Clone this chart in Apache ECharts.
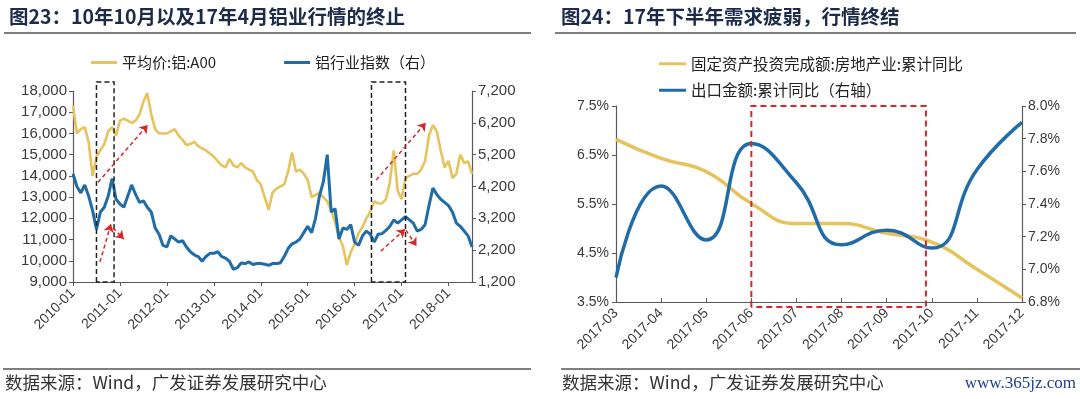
<!DOCTYPE html>
<html>
<head>
<meta charset="utf-8">
<script src="https://cdn.jsdelivr.net/npm/echarts@6/dist/echarts.min.js"></script>
<style>
  html, body { margin: 0; padding: 0; background: #fff; }
  #myChart { width: 1080px; height: 399px; }
</style>
</head>
<body>
<div id="myChart"></div>
<script>
/* 图23 / 图24 */
// 月份 2010-01 ~ 2018-07
var monthsL = [];
for (var y = 2010; y <= 2018; y++) {
    for (var m = 1; m <= 12; m++) {
        if (y == 2018 && m > 7) break;
        monthsL.push(y + '-' + (m < 10 ? '0' + m : m));
    }
}
// 平均价:铝:A00（元/吨）
var priceA00 = [
    17300, 16000, 16200, 16300, 15600, 14000, 14900, 15200, 15500, 16100, 16300, 15900,
    16600, 16700, 16600, 16500, 16600, 16900, 17500, 17900, 16900, 16200, 16000, 16000,
    16000, 16100, 16200, 15900, 15700, 15450, 15500, 15600, 15400, 15300, 15200, 15050,
    14900, 14700, 14500, 14400, 14800, 14500, 14400, 14600, 14400, 14300, 14200, 13800,
    13600, 13000, 12400, 13200, 13400, 13500, 13600, 14200, 15100, 14200, 14300, 14100,
    13800, 13000, 13100, 13200, 13000, 12800, 12400, 11800, 11100, 10700, 9800, 10400,
    10800, 11300, 11600, 12000, 12300, 12800, 12700, 12700, 12900, 13700, 15200, 13300,
    12900, 13900, 14000, 14100, 14100, 14300, 14700, 15900, 16400, 16100, 15200, 14400,
    14700, 13900, 14100, 15000, 14600, 14700, 14100
];
// 铝行业指数（右）
var alIndex = [
    4600, 4200, 4000, 4250, 3900, 3450, 2850, 3400, 3550, 3900, 4450, 3800,
    3650, 3550, 3900, 4250, 3950, 3700, 3750, 3550, 3400, 2900, 2700, 2350,
    2300, 2650, 2550, 2450, 2500, 2300, 2150, 2050, 2000, 1850, 2000, 2100,
    2100, 2150, 2000, 1950, 1850, 1600, 1650, 1800, 1780, 1830, 1750, 1780,
    1780, 1760, 1720, 1780, 1780, 1800, 2000, 2250, 2400, 2450, 2550, 2750,
    2950, 2750, 3200, 3900, 4350, 5200, 3400, 3500, 2550, 2900, 2850, 3000,
    2450, 2350, 2650, 2800, 2700, 2450, 2700, 2720, 2820, 2950, 3150, 3050,
    3150, 3250, 3150, 3050, 2800, 2850, 3000, 3600, 4150, 3950, 3800, 3700,
    3600, 3400, 3050, 2950, 2800, 2650, 2300
];

var monthsR = ['2017-03', '2017-04', '2017-05', '2017-06', '2017-07', '2017-08', '2017-09', '2017-10', '2017-11', '2017-12'];
// 固定资产投资完成额:房地产业:累计同比（%）
var investYoY = [6.82, 6.43, 6.16, 5.51, 5.10, 5.10, 4.90, 4.72, 4.17, 3.58];
// 出口金额:累计同比（右轴，%）
var exportYoY = [6.95, 7.51, 7.18, 7.77, 7.53, 7.15, 7.24, 7.13, 7.61, 7.90];

// 标注：虚线框 [起始月序号, 结束月序号]，箭头 [x1, y1, x2, y2]
var boxesL = [[6, 10.5], [76.3, 85]];
var boxTopL = 18425;
var arrowsPrice = [[6.4, 13700, 19.1, 16400], [77.5, 13800, 90.2, 16500]];
var arrowsIndex = [[6.9, 1830, 9.7, 3020], [10.2, 2900, 13.0, 2550], [78.7, 2170, 84.9, 2860], [85.1, 2830, 87.8, 2330]];
var boxR = [3, 6.87, 3.4, 7.5];

var cnFont = '"Noto Sans CJK SC", sans-serif';
var numFont = '"Liberation Sans", Arial, sans-serif';
var yellow = '#e6c35c';
var blue = '#1f6ca8';
var red = '#d9262b';
var axisColor = '#595959';
var labelColor = '#3a3a3a';

function $each(arr, fn) { for (var i = 0; i < arr.length; i++) fn(arr[i], i); }

function boxCoords(x1, x2, yb, yt) {
    return [[x1, yb], [x1, yt], [x2, yt], [x2, yb], [x1, yb]];
}

function arrowData(list) {
    var out = [];
    $each(list, function (a) { out.push({ coords: [[a[0], a[1]], [a[2], a[3]]] }); });
    return out;
}

var myChart = echarts.init(document.getElementById('myChart'));

var lineBoxes = [];
$each(boxesL, function (b) {
    lineBoxes.push({ coords: boxCoords(b[0], b[1], 9000, boxTopL) });
});

var axisLineStyle = { lineStyle: { color: axisColor, width: 1.2 } };

option = {
    animation: false,
    title: [{
        text: '图23：10年10月以及17年4月铝业行情的终止',
        left: 4, top: 2,
        textStyle: { fontFamily: cnFont, fontSize: 19.5, fontWeight: 'bold', color: '#1c2b4a' }
    }, {
        text: '图24：17年下半年需求疲弱，行情终结',
        left: 556, top: 2,
        textStyle: { fontFamily: cnFont, fontSize: 19.5, fontWeight: 'bold', color: '#1c2b4a' }
    }],
    legend: [{
        data: ['平均价:铝:A00', '铝行业指数（右）'],
        left: 86, top: 50,
        itemWidth: 26, itemHeight: 3, itemGap: 68,
        icon: 'rect',
        textStyle: { fontFamily: cnFont, fontSize: 15, color: '#222' }
    }, {
        data: ['固定资产投资完成额:房地产业:累计同比', '出口金额:累计同比（右轴）'],
        orient: 'vertical',
        left: 654, top: 51,
        itemWidth: 27, itemHeight: 3, itemGap: 11,
        icon: 'rect',
        textStyle: { fontFamily: cnFont, fontSize: 15.5, color: '#222' }
    }],
    grid: [
        { left: 73, top: 91, width: 399, height: 191 },
        { left: 616, top: 106, width: 406, height: 196 }
    ],
    xAxis: [{
        type: 'category', gridIndex: 0, data: monthsL, boundaryGap: false,
        axisLine: axisLineStyle,
        axisTick: { interval: 11, length: 4, lineStyle: { color: axisColor } },
        axisLabel: { interval: 11, rotate: 45, fontFamily: numFont, fontSize: 14, color: labelColor, margin: 9 }
    }, {
        type: 'category', gridIndex: 1, data: monthsR, boundaryGap: false,
        axisLine: axisLineStyle,
        axisTick: { inside: true, length: 4, lineStyle: { color: axisColor } },
        axisLabel: { interval: 0, rotate: 45, fontFamily: numFont, fontSize: 14, color: labelColor, margin: 9 }
    }, {
        type: 'value', gridIndex: 0, min: 0, max: monthsL.length - 1, show: false
    }, {
        type: 'value', gridIndex: 1, min: 0, max: monthsR.length - 1, show: false
    }],
    yAxis: [{
        type: 'value', gridIndex: 0, min: 9000, max: 18000, interval: 1000,
        axisLine: { show: true, lineStyle: { color: axisColor, width: 1.2 } },
        axisTick: { show: true, length: 4, lineStyle: { color: axisColor } },
        splitLine: { show: false },
        axisLabel: {
            fontFamily: numFont, fontSize: 15, color: labelColor, margin: 6,
            formatter: function (v) { return v.toLocaleString('en-US'); }
        }
    }, {
        type: 'value', gridIndex: 0, position: 'right', min: 1200, max: 7200, interval: 1000,
        axisLine: { show: true, lineStyle: { color: axisColor, width: 1.2 } },
        axisTick: { show: true, length: 4, lineStyle: { color: axisColor } },
        splitLine: { show: false },
        axisLabel: {
            fontFamily: numFont, fontSize: 15, color: labelColor, margin: 6,
            formatter: function (v) { return v.toLocaleString('en-US'); }
        }
    }, {
        type: 'value', gridIndex: 1, min: 3.5, max: 7.5, interval: 1,
        axisLine: { show: true, lineStyle: { color: axisColor, width: 1.2 } },
        axisTick: { show: true, length: 4, lineStyle: { color: axisColor } },
        splitLine: { show: false },
        axisLabel: {
            fontFamily: numFont, fontSize: 14, color: labelColor, margin: 7,
            formatter: function (v) { return v.toFixed(1) + '%'; }
        }
    }, {
        type: 'value', gridIndex: 1, position: 'right', min: 6.8, max: 8.0, interval: 0.2,
        axisLine: { show: true, lineStyle: { color: axisColor, width: 1.2 } },
        axisTick: { show: true, length: 4, lineStyle: { color: axisColor } },
        splitLine: { show: false },
        axisLabel: {
            fontFamily: numFont, fontSize: 14, color: labelColor, margin: 6,
            formatter: function (v) { return v.toFixed(1) + '%'; }
        }
    }],
    series: [{
        name: '平均价:铝:A00', type: 'line', xAxisIndex: 0, yAxisIndex: 0,
        data: priceA00, showSymbol: false, color: yellow,
        lineStyle: { width: 2.6, color: yellow }
    }, {
        name: '铝行业指数（右）', type: 'line', xAxisIndex: 0, yAxisIndex: 1,
        data: alIndex, showSymbol: false, color: blue,
        lineStyle: { width: 3, color: blue }
    }, {
        name: '固定资产投资完成额:房地产业:累计同比', type: 'line', xAxisIndex: 1, yAxisIndex: 2,
        data: investYoY, showSymbol: false, smooth: 0.5, color: yellow,
        lineStyle: { width: 3.5, color: yellow }
    }, {
        name: '出口金额:累计同比（右轴）', type: 'line', xAxisIndex: 1, yAxisIndex: 3,
        data: exportYoY, showSymbol: false, smooth: 0.5, color: blue,
        lineStyle: { width: 3.5, color: blue }
    }, {
        // 黑色虚线框
        type: 'lines', coordinateSystem: 'cartesian2d', xAxisIndex: 2, yAxisIndex: 0,
        polyline: true, clip: false, silent: true, symbol: 'none',
        lineStyle: { color: '#222', width: 1.5, type: [5, 3], opacity: 1 },
        data: lineBoxes, z: 5
    }, {
        type: 'lines', coordinateSystem: 'cartesian2d', xAxisIndex: 2, yAxisIndex: 0,
        clip: false, silent: true, symbol: ['none', 'arrow'], symbolSize: 8,
        lineStyle: { color: red, width: 1.5, type: [4, 3], opacity: 1 },
        data: arrowData(arrowsPrice), z: 5
    }, {
        type: 'lines', coordinateSystem: 'cartesian2d', xAxisIndex: 2, yAxisIndex: 1,
        clip: false, silent: true, symbol: ['none', 'arrow'], symbolSize: 8,
        lineStyle: { color: red, width: 1.5, type: [4, 3], opacity: 1 },
        data: arrowData(arrowsIndex), z: 5
    }, {
        // 红色虚线框
        type: 'lines', coordinateSystem: 'cartesian2d', xAxisIndex: 3, yAxisIndex: 2,
        polyline: true, clip: false, silent: true, symbol: 'none',
        lineStyle: { color: red, width: 2, type: [6, 4], opacity: 1 },
        data: [{ coords: boxCoords(boxR[0], boxR[1], boxR[2], boxR[3]) }], z: 5
    }],
    graphic: [
        { type: 'line', shape: { x1: 4, y1: 33, x2: 531, y2: 33 }, style: { stroke: '#7f7f7f', lineWidth: 2 } },
        { type: 'line', shape: { x1: 555, y1: 33, x2: 1076, y2: 33 }, style: { stroke: '#7f7f7f', lineWidth: 2 } },
        { type: 'line', shape: { x1: 3, y1: 369, x2: 531, y2: 369 }, style: { stroke: '#7f7f7f', lineWidth: 2 } },
        { type: 'line', shape: { x1: 561, y1: 369, x2: 1080, y2: 369 }, style: { stroke: '#7f7f7f', lineWidth: 2 } },
        { type: 'text', left: 5, top: 374, style: { text: '数据来源：Wind，广发证券发展研究中心', font: '17.5px ' + cnFont, fill: '#333' } },
        { type: 'text', left: 562, top: 374, style: { text: '数据来源：Wind，广发证券发展研究中心', font: '17.5px ' + cnFont, fill: '#333' } },
        { type: 'text', right: 4, top: 375, style: { text: 'www.365jz.com', font: '17px "Liberation Serif", serif', fill: '#1d3f8f' } }
    ]
};

myChart.setOption(option);
</script>
</body>
</html>
